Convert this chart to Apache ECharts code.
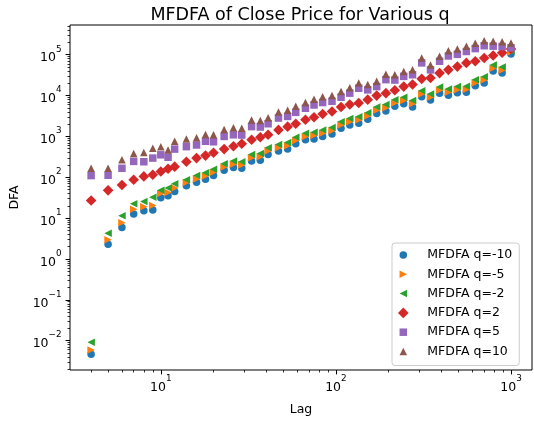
<!DOCTYPE html>
<html><head><meta charset="utf-8">
<script src="https://cdn.jsdelivr.net/npm/echarts@6/dist/echarts.min.js"></script>
<style>html,body{margin:0;padding:0;background:#fff}#c{width:534px;height:421px}</style>
</head><body><div id="c"></div>
<script>
const lags = [4,5,6,7,8,9,10,11,12,14,16,18,20,23,26,29,33,37,41,47,53,59,67,75,84,95,107,120,135,152,171,193,217,244,274,309,347,391,439,494,556,625,703,791,890,1000];

const qNeg10 = [0.00468,2.29,5.89,12.6,15.1,15.8,31.6,35.5,44.7,61.7,75.9,89.1,110,148,174,166,251,263,363,437,490,661,832,871,1000,1148,1585,1905,2089,2630,3631,4169,5495,6310,5248,9333,7762,11480,10230,11750,12020,17380,20420,39810,35480,104700];
const qNeg5 = [0.00589,2.95,7.76,16.6,19.1,20.4,39.8,42.7,55.0,74.1,91.2,107,132,178,209,200,302,316,437,525,589,794,1000,1047,1202,1380,1905,2291,2512,3162,4365,5012,6607,7586,6310,10960,9120,13490,12020,13800,14130,20420,23990,46770,41690,117500];
const qNeg2 = [0.00912,4.27,11.5,22.4,25.7,32.4,47.9,55.0,69.2,87.1,110,129,158,214,251,240,363,380,525,631,708,955,1202,1259,1445,1660,2291,2754,3020,3802,5248,6026,7943,9120,7586,13180,10960,16220,14450,16600,16980,24550,28840,56230,50120,125900];
const qPos2 = [26.9,47.9,64.6,87.1,105,115,138,162,182,240,295,339,398,490,575,661,832,955,1096,1445,1738,2042,2570,2951,3548,4074,5248,6026,6607,7943,10000,11480,13490,16600,18620,25700,26920,35480,42660,51290,63100,69180,83180,95500,112200,138000];
const qPos5 = [110,112,166,245,240,295,355,309,490,562,617,760,740,1000,1096,1080,1738,1700,2042,2818,3090,3890,4898,5888,6761,7244,9120,11480,15140,13800,16600,24550,24000,29510,32360,63100,42660,69180,93300,102300,120200,141300,166000,162200,158500,147900];
const qPos10 = [166,166,269,380,407,513,562,468,759,871,933,1122,1096,1479,1622,1585,2512,2455,2884,3981,4365,5495,6761,8128,9333,10000,12590,15490,20420,18620,22390,33110,32360,38900,42660,83180,56230,91200,125900,138000,162200,190500,218800,213800,208900,195000];

const seriesNames = ['MFDFA q=-10','MFDFA q=-5','MFDFA q=-2','MFDFA q=2','MFDFA q=5','MFDFA q=10'];
const xMajorTicks = [10, 100, 1000];
const yMajorTicks = [0.01, 0.1, 1, 10, 100, 1000, 10000, 100000];

const xMin = 3.03, xMax = 1318, yMin = 0.001914, yMax = 534600;
const FONT = 'DejaVu Sans';

function minorTicks(lo, hi) {
  const out = [];
  for (let e = Math.floor(Math.log10(lo)); e <= Math.ceil(Math.log10(hi)); e++) {
    for (let m = 2; m <= 9; m++) {
      const v = m * Math.pow(10, e);
      if (v > lo && v < hi) out.push(v);
    }
  }
  return out;
}
function fmt(v) {
  const e = Math.round(Math.log10(v));
  return '{b|10}{s|' + String(e).replace('-', '\u2212') + '}';
}
const labelRich = {
  b: { fontFamily: FONT, fontSize: 12.5, color: '#000', lineHeight: 12, verticalAlign: 'bottom' },
  s: { fontFamily: FONT, fontSize: 8.8, color: '#000', lineHeight: 20, verticalAlign: 'top' }
};

const colors = ['#1f77b4','#ff7f0e','#2ca02c','#d62728','#9467bd','#8c564b'];
const values = [qNeg10, qNeg5, qNeg2, qPos2, qPos5, qPos10];
const symbols = ['circle','path://M0,0L2,1L0,2Z','path://M2,0L0,1L2,2Z','diamond','rect','triangle'];
const sizes = [7.5, 7.5, 7.5, 10.6, 7.5, 7.5];
const legendIcons = [
  'path://M0,0M1.414,1.414M0.207,0.707A0.5,0.5,0,1,1,1.207,0.707A0.5,0.5,0,1,1,0.207,0.707Z',
  'path://M0,0M1.414,1.414M0.207,0.207L1.207,0.707L0.207,1.207Z',
  'path://M0,0M1.414,1.414M1.207,0.207L0.207,0.707L1.207,1.207Z',
  'path://M0.707,0L1.414,0.707L0.707,1.414L0,0.707Z',
  'path://M0,0M1.414,1.414M0.207,0.207L1.207,0.207L1.207,1.207L0.207,1.207Z',
  'path://M0,0M1.414,1.414M0.707,0.207L1.207,1.207L0.207,1.207Z'
];

const series = values.map((vals, i) => ({
  name: seriesNames[i],
  type: 'scatter',
  data: lags.map((l, j) => [l, vals[j]]),
  symbol: symbols[i],
  symbolSize: sizes[i],
  symbolKeepAspect: true,
  itemStyle: { color: colors[i], opacity: 1 },
  emphasis: { disabled: true },
  xAxisIndex: 0, yAxisIndex: 0
}));

const chart = echarts.init(document.getElementById('c'), null, { renderer: 'canvas' });
chart.setOption({
  animation: false,
  backgroundColor: '#ffffff',
  title: {
    text: 'MFDFA of Close Price for Various q',
    left: 295, top: 1.5, textAlign: 'center',
    textStyle: { fontFamily: FONT, fontSize: 17.5, fontWeight: 'normal', color: '#000' }
  },
  grid: { left: 70, right: 2, top: 25, bottom: 51, show: true, borderColor: '#000', borderWidth: 1, containLabel: false, outerBoundsMode: 'none' },
  legend: {
    orient: 'vertical', left: 392, top: 243,
    padding: [5, 7, 7, 6],
    itemWidth: 22, itemHeight: 10.6, itemGap: 5.3,
    backgroundColor: 'rgba(255,255,255,0.8)', borderColor: '#cccccc', borderWidth: 1, borderRadius: 3,
    symbolKeepAspect: true,
    textStyle: { fontFamily: FONT, fontSize: 12.5, color: '#000', lineHeight: 14, padding: [0, 0, 0, 8] },
    data: seriesNames.map((n, i) => ({ name: n, icon: legendIcons[i] }))
  },
  xAxis: [
    {
      type: 'log', logBase: 10, min: xMin, max: xMax, position: 'bottom',
      axisLine: { show: false }, splitLine: { show: false },
      axisTick: { show: true, length: 4.4, customValues: xMajorTicks, lineStyle: { color: '#000', width: 1 } },
      axisLabel: { customValues: xMajorTicks, formatter: fmt, rich: labelRich, color: '#000', margin: 4.5 },
      name: 'Lag', nameLocation: 'middle', nameGap: 33,
      nameTextStyle: { fontFamily: FONT, fontSize: 12.5, color: '#000' }
    },
    {
      type: 'log', logBase: 10, min: xMin, max: xMax, position: 'bottom', offset: 0,
      axisLine: { show: false }, splitLine: { show: false }, axisLabel: { show: false },
      axisTick: { show: true, length: 2.5, customValues: minorTicks(xMin, xMax), lineStyle: { color: '#000', width: 0.8 } }
    }
  ],
  yAxis: [
    {
      type: 'log', logBase: 10, min: yMin, max: yMax, position: 'left',
      axisLine: { show: false }, splitLine: { show: false },
      axisTick: { show: true, length: 4.4, customValues: yMajorTicks, lineStyle: { color: '#000', width: 1 } },
      axisLabel: { customValues: yMajorTicks, formatter: fmt, rich: labelRich, color: '#000', margin: 8.5 },
      name: 'DFA', nameLocation: 'middle', nameGap: 49,
      nameTextStyle: { fontFamily: FONT, fontSize: 12.5, color: '#000' }
    },
    {
      type: 'log', logBase: 10, min: yMin, max: yMax, position: 'left', offset: 0,
      axisLine: { show: false }, splitLine: { show: false }, axisLabel: { show: false },
      axisTick: { show: true, length: 2.5, customValues: minorTicks(yMin, yMax), lineStyle: { color: '#000', width: 0.8 } }
    }
  ],
  series: series
});
</script>
</body></html>
